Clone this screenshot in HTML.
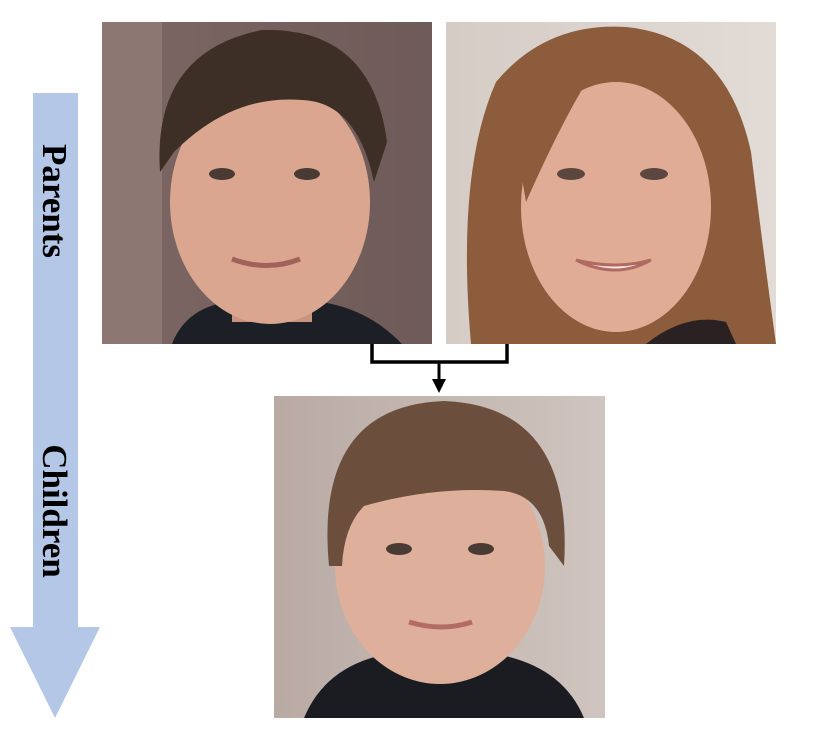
<!DOCTYPE html>
<html><head><meta charset="utf-8"><style>
html,body{margin:0;padding:0;background:#fff;width:822px;height:738px;overflow:hidden}
</style></head><body>
<svg width="822" height="738" viewBox="0 0 822 738" xmlns="http://www.w3.org/2000/svg">
<defs>
<linearGradient id="bgm" x1="0" y1="0" x2="1" y2="0"><stop offset="0" stop-color="#7d6764"/><stop offset="1" stop-color="#6e5a58"/></linearGradient>
<linearGradient id="bgw" x1="0" y1="0" x2="1" y2="0"><stop offset="0" stop-color="#d6ccc6"/><stop offset="1" stop-color="#e2dbd6"/></linearGradient>
<linearGradient id="bgc" x1="0" y1="0" x2="1" y2="0"><stop offset="0" stop-color="#b9aaa4"/><stop offset="1" stop-color="#cfc4bf"/></linearGradient>
</defs>
<rect x="33" y="93" width="45" height="535" fill="#b4c7e7"/>
<polygon points="10,627 100,627 55,718" fill="#b4c7e7"/>
<text transform="translate(43,201) rotate(90)" text-anchor="middle" font-family="Liberation Serif, serif" font-weight="bold" font-size="35" fill="#000">Parents</text>
<text transform="translate(43,511) rotate(90)" text-anchor="middle" font-family="Liberation Serif, serif" font-weight="bold" font-size="35" fill="#000">Children</text>

<svg x="102" y="22" width="330" height="322" viewBox="0 0 330 322">
<rect width="330" height="322" fill="url(#bgm)"/>
<rect x="0" y="0" width="60" height="322" fill="#8c7773"/>
<path d="M70,322 Q90,270 170,280 Q250,270 300,322 Z" fill="#1c1f26"/>
<rect x="130" y="230" width="80" height="70" fill="#c99380"/>
<ellipse cx="168" cy="180" rx="100" ry="122" fill="#daa690"/>
<path d="M58,150 Q50,30 160,8 Q270,5 285,120 L272,160 Q255,80 200,78 Q130,72 72,130 Z" fill="#3d2f26"/>
<ellipse cx="120" cy="152" rx="13" ry="6" fill="#4a3a34"/>
<ellipse cx="205" cy="152" rx="13" ry="6" fill="#4a3a34"/>
<path d="M130,237 Q165,250 198,237" stroke="#a0625a" stroke-width="5" fill="none"/>
</svg>

<svg x="446" y="22" width="330" height="322" viewBox="0 0 330 322">
<rect width="330" height="322" fill="url(#bgw)"/>
<path d="M25,322 Q10,150 50,60 Q100,0 180,5 Q280,15 305,130 Q320,250 330,322 Z" fill="#8c5c3c"/>
<path d="M200,322 Q240,290 280,300 L290,322 Z" fill="#2a2222"/>
<ellipse cx="170" cy="185" rx="95" ry="125" fill="#e0ac96"/>
<path d="M75,150 Q80,60 150,45 Q120,90 80,180 Z" fill="#8c5c3c"/>
<path d="M160,40 Q250,50 265,170 L260,140 Q240,70 160,40Z" fill="#8c5c3c"/>
<ellipse cx="125" cy="152" rx="14" ry="6" fill="#5b4740"/>
<ellipse cx="208" cy="152" rx="14" ry="6" fill="#5b4740"/>
<path d="M130,238 Q170,258 205,238 Q170,248 130,238Z" fill="#f2e6e0" stroke="#b06a62" stroke-width="3"/>
</svg>

<svg x="274" y="396" width="331" height="322" viewBox="0 0 331 322">
<rect width="331" height="322" fill="url(#bgc)"/>
<path d="M30,322 Q60,250 165,255 Q280,250 310,322 Z" fill="#1b1c22"/>
<ellipse cx="166" cy="170" rx="105" ry="118" fill="#deb09c"/>
<path d="M55,170 Q40,10 170,5 Q300,10 290,170 L275,150 Q270,100 230,95 Q160,90 90,110 Q70,130 68,170 Z" fill="#6b4f3c"/>
<ellipse cx="125" cy="153" rx="13" ry="6" fill="#4a3a34"/>
<ellipse cx="207" cy="153" rx="13" ry="6" fill="#4a3a34"/>
<path d="M135,226 Q168,236 198,226" stroke="#b26c64" stroke-width="5" fill="none"/>
</svg>

<path d="M372,344 V362 H507 V344" stroke="#000" stroke-width="3.5" fill="none"/>
<line x1="439" y1="362" x2="439" y2="382" stroke="#000" stroke-width="3"/>
<polygon points="432,379 446,379 439,393" fill="#000"/>
</svg>
</body></html>
